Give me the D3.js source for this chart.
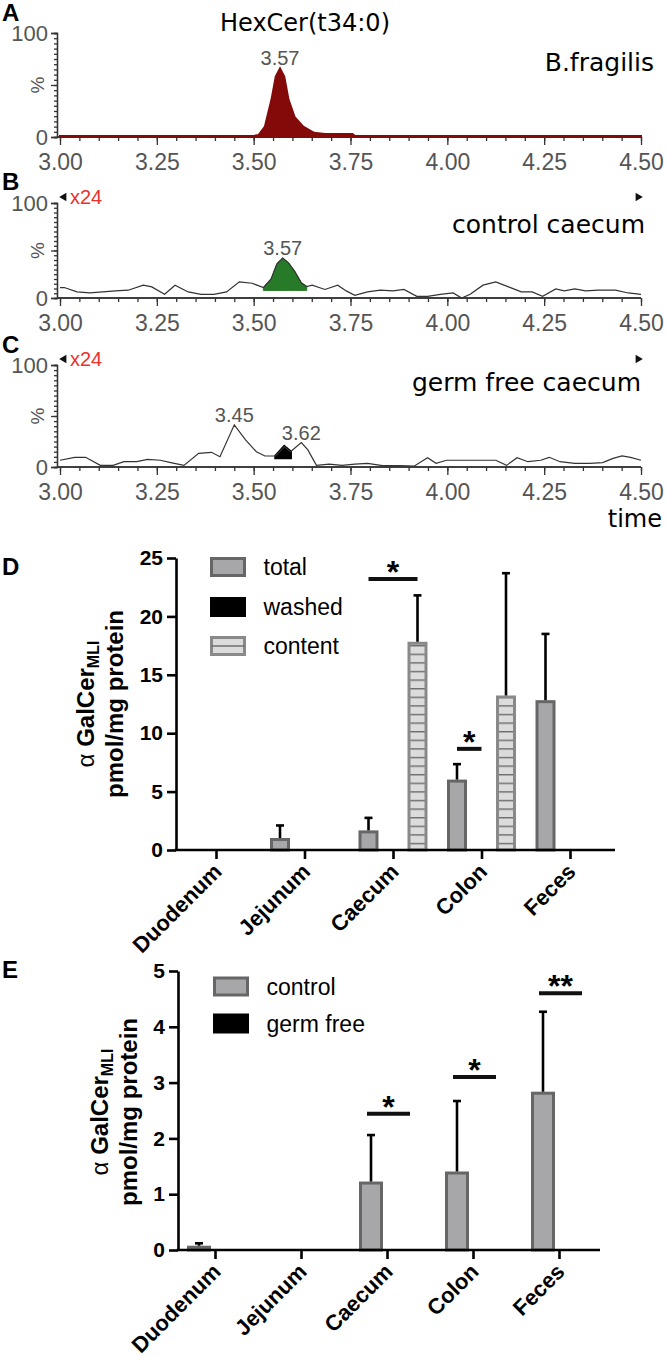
<!DOCTYPE html>
<html>
<head>
<meta charset="utf-8">
<script src="https://cdn.jsdelivr.net/npm/d3@7"></script>
<style>
  body { margin: 0; background: #fff; }
  svg { display: block; }
</style>
</head>
<body>
<script>
// ---- data ----
// chromatograms: retention time (min) and relative intensity (%)
var timeTicks = [3.00, 3.25, 3.50, 3.75, 4.00, 4.25, 4.50];

var fragilisTime = [3.00, 3.50, 3.513, 3.529, 3.546, 3.557, 3.568, 3.579, 3.590, 3.606, 3.628, 3.656, 3.684, 3.755, 3.762, 4.50];
var fragilisPct  = [1, 1, 2, 10, 36, 58, 66, 58, 36, 19, 10, 4, 3, 3, 1, 1];

var controlTime = [3.00, 3.011, 3.044, 3.077, 3.110, 3.143, 3.176, 3.215, 3.237, 3.270, 3.297, 3.331, 3.364, 3.397,
  3.430, 3.463, 3.496, 3.525, 3.545, 3.560, 3.575, 3.590, 3.606, 3.623, 3.637, 3.651, 3.684, 3.717, 3.739, 3.761,
  3.794, 3.827, 3.860, 3.888, 3.921, 3.949, 3.982, 4.015, 4.037, 4.059, 4.092, 4.125, 4.158, 4.191, 4.219, 4.246,
  4.280, 4.302, 4.329, 4.357, 4.390, 4.434, 4.467, 4.500];
var controlPct = [11, 11, 6.4, 5.3, 6.4, 7.5, 8.2, 13.5, 11.7, 3.9, 13.5, 6.4, 3.9, 3.9,
  6.4, 17, 15.5, 11, 20, 36, 42, 37, 28, 16, 12, 13.5, 9, 13.5, 7.5, 2.9,
  6.4, 8.2, 7.5, 9, 1.8, 1.8, 3.9, 5.3, 0, 3.9, 13.5, 17, 11.7, 6.4, 6.4, 1.8,
  9.5, 7.5, 9.5, 7.5, 8.2, 8.2, 5.3, 3.9];

var germfreeTime = [3.00, 3.038, 3.066, 3.104, 3.137, 3.165, 3.198, 3.226, 3.259, 3.286, 3.320, 3.358, 3.391, 3.413,
  3.450, 3.479, 3.507, 3.529, 3.557, 3.579, 3.595, 3.623, 3.640, 3.662, 3.695, 3.728, 3.761, 3.794, 3.833, 3.877,
  3.915, 3.949, 3.971, 3.998, 4.037, 4.081, 4.125, 4.153, 4.180, 4.208, 4.241, 4.263, 4.291, 4.329, 4.368, 4.401,
  4.428, 4.451, 4.473, 4.500];
var germfreePct = [6.6, 9.5, 9.5, 1.6, 1.6, 5.2, 5.2, 7.5, 6.6, 4.3, 1.6, 13.4, 14.4, 10.1,
  41.3, 26.5, 15, 10.8, 10.8, 20, 15, 23.9, 16.7, 1.6, 2.9, 1.6, 2.9, 3.6, 1.3, 1.3,
  1, 9.1, 3.6, 6.6, 6.6, 6.6, 6.6, 1.6, 9.1, 5.2, 6.6, 9.5, 5.2, 3.6, 3.6, 4.3,
  8.5, 10.8, 9.5, 6.6];

// bar charts
var regions = ["Duodenum", "Jejunum", "Caecum", "Colon", "Feces"];

var dSeries = ["total", "washed", "content"];
var dTotal = [0, 0.9, 1.55, 5.9, 12.7];
var dTotalErr = [0, 1.2, 1.2, 1.45, 5.8];
var dWashed = [0, 0, 0, 0, 0];
var dContent = [0, 0, 17.7, 13.1, 0];
var dContentErr = [0, 0, 4.1, 10.6, 0];
var dSig = [["Caecum", "total", "content", 23.2, "*"], ["Colon", "total", "washed", 8.66, "*"]];

var eSeries = ["control", "germ free"];
var eControl = [0.05, 0, 1.2, 1.38, 2.81];
var eControlErr = [0.07, 0, 0.86, 1.29, 1.46];
var eGermFree = [0, 0, 0, 0, 0];
var eSig = [["Caecum", 2.44, "*"], ["Colon", 3.1, "*"], ["Feces", 4.6, "**"]];

// ---- svg ----
var svgWidth = 667;
var svgHeight = 1357;

var svg = d3.select("body")
  .append("svg")
  .attr("width", svgWidth)
  .attr("height", svgHeight)
  .style("font-family", "'Liberation Sans', Arial, sans-serif");

var defs = svg.append("defs");
var stripes = defs.append("pattern")
  .attr("id", "stripes")
  .attr("patternUnits", "userSpaceOnUse")
  .attr("width", 40)
  .attr("height", 8.6);
stripes.append("rect").attr("width", 40).attr("height", 8.6).attr("fill", "#dcdcdc");
stripes.append("line").attr("x1", 0).attr("x2", 40).attr("y1", 0.7).attr("y2", 0.7)
  .attr("stroke", "#6e6e6e").attr("stroke-width", 1.4);

// panel letters
[["A", 21], ["B", 190], ["C", 353], ["D", 575], ["E", 978]].forEach(function(p) {
  svg.append("text").attr("x", 2).attr("y", p[1])
    .style("font-size", "24px").style("font-weight", "bold").text(p[0]);
});

// ---- chromatograms ----
var xTime = d3.scaleLinear().domain([3, 4.5]).range([60, 641]);
var minorTimes = d3.range(0, 31).map(function(i) { return 3 + i * 0.05; });
var labelFont = "'DejaVu Sans', Verdana, sans-serif";

var chromPanels = [
  { y100: 33, y0: 137, time: fragilisTime, pct: fragilisPct, name: "B.fragilis", nameX: 654, nameY: 71,
    fill: "#840a0a", line: "#840a0a", fullFill: true, peaks: [[3.568, 66, "3.57"]] },
  { y100: 203, y0: 298, time: controlTime, pct: controlPct, name: "control caecum", nameX: 645, nameY: 233,
    fill: "#277a27", line: "#333", window: [3.525, 3.637, 8], zoomY: 197, peaks: [[3.575, 42, "3.57"]] },
  { y100: 365, y0: 467, time: germfreeTime, pct: germfreePct, name: "germ free caecum", nameX: 641, nameY: 391,
    fill: "#000", line: "#333", window: [3.557, 3.595, 9], zoomY: 359,
    peaks: [[3.45, 41.3, "3.45"], [3.623, 23.9, "3.62"]] }
];

chromPanels.forEach(function(p, pi) {
  var y = d3.scaleLinear().domain([0, 100]).range([p.y0, p.y100]);
  var g = svg.append("g");
  var pts = p.time.map(function(t, i) { return { t: t, v: p.pct[i] }; });

  // x axis
  var xMinor = d3.axisBottom(xTime).tickValues(minorTimes).tickSize(4).tickFormat("").tickSizeOuter(0);
  var xMajor = d3.axisBottom(xTime).tickValues(timeTicks).tickSize(8).tickPadding(9)
    .tickFormat(d3.format(".2f")).tickSizeOuter(0);
  var xg = g.append("g").attr("transform", `translate(0, ${p.y0})`);
  xg.call(xMinor);
  xg.append("g").call(xMajor);
  xg.selectAll("path.domain").attr("stroke", "#333").attr("stroke-width", 1.3)
    .attr("d", "M57,0H641");
  xg.selectAll("line").attr("stroke", "#333").attr("stroke-width", 1.3);
  xg.selectAll("text").style("font-size", "23px").attr("fill", "#555");

  // y axis
  var yMinor = d3.axisLeft(y).tickValues(d3.range(0, 101, 5)).tickSize(3).tickFormat("");
  var yMajor = d3.axisLeft(y).tickValues([0, 50, 100]).tickSize(6).tickPadding(3)
    .tickFormat(d => d == 50 ? "" : d);
  var yg = g.append("g").attr("transform", "translate(57,0)");
  yg.call(yMinor);
  yg.append("g").call(yMajor);
  yg.selectAll("path.domain").attr("stroke", "#333").attr("stroke-width", 1.3);
  yg.selectAll("line").attr("stroke", "#333").attr("stroke-width", 1.3);
  yg.selectAll("text").style("font-size", "22px").attr("fill", "#555");

  // traces (drawn over the axis line)
  if (p.fullFill) {
    var area = d3.area().x(d => xTime(d.t)).y0(y(0)).y1(d => y(d.v));
    g.append("path").datum(pts).attr("d", area)
      .attr("fill", p.fill).attr("stroke", p.fill).attr("stroke-width", 2);
  } else {
    var sub = pts.filter(d => d.t >= p.window[0] && d.t <= p.window[1]);
    var area2 = d3.area().x(d => xTime(d.t)).y0(y(p.window[2])).y1(d => y(d.v));
    g.append("path").datum(sub).attr("d", area2)
      .attr("fill", p.fill).attr("stroke", p.fill).attr("stroke-width", pi == 2 ? 3 : 1);
    var line = d3.line().x(d => xTime(d.t)).y(d => y(d.v));
    g.append("path").datum(pts).attr("d", line)
      .attr("fill", "none").attr("stroke", p.line).attr("stroke-width", 1.2);
  }

  g.append("text")
    .attr("transform", `translate(44, ${y(50)}) rotate(-90)`)
    .attr("text-anchor", "middle")
    .style("font-size", "19px").attr("fill", "#555").text("%");

  // peak labels
  p.peaks.forEach(function(pk) {
    g.append("text").attr("x", xTime(pk[0])).attr("y", y(pk[1]) - 3)
      .attr("text-anchor", "middle").style("font-size", "20px").attr("fill", "#555").text(pk[2]);
  });

  g.append("text").attr("x", p.nameX).attr("y", p.nameY)
    .attr("text-anchor", "end")
    .style("font-family", labelFont).style("font-size", "25px").text(p.name);

  if (p.zoomY) {
    g.append("path").attr("d", d3.symbol(d3.symbolTriangle, 30)())
      .attr("transform", `translate(64, ${p.zoomY}) rotate(-90)`).attr("fill", "#111");
    g.append("path").attr("d", d3.symbol(d3.symbolTriangle, 30)())
      .attr("transform", `translate(638, ${p.zoomY}) rotate(90)`).attr("fill", "#111");
    g.append("text").attr("x", 70).attr("y", p.zoomY + 7)
      .style("font-size", "20px").attr("fill", "#e8332d").text("x24");
  }
});

svg.append("text").attr("x", 305).attr("y", 31).attr("text-anchor", "middle")
  .style("font-family", labelFont).style("font-size", "24px").text("HexCer(t34:0)");
svg.append("text").attr("x", 662).attr("y", 527).attr("text-anchor", "end")
  .style("font-family", labelFont).style("font-size", "24px").text("time");

// ---- bar chart helpers ----
function drawYTitle(cx1, cx2, cy) {
  var t1 = svg.append("text")
    .attr("transform", `translate(${cx1}, ${cy}) rotate(-90)`)
    .attr("text-anchor", "middle").style("font-size", "24px").style("font-weight", "bold");
  t1.append("tspan").style("font-weight", "normal").text("\u03b1 ");
  t1.append("tspan").text("GalCer");
  t1.append("tspan").attr("dy", 5).style("font-size", "16px").text("MLI");
  svg.append("text")
    .attr("transform", `translate(${cx2}, ${cy}) rotate(-90)`)
    .attr("text-anchor", "middle").style("font-size", "24px").style("font-weight", "bold")
    .text("pmol/mg protein");
}

function drawAxes(x, y, yTicks, xStart, xEnd) {
  var yAxis = d3.axisLeft(y).tickValues(yTicks).tickSize(9).tickPadding(4).tickSizeOuter(0)
    .tickFormat(d3.format("d"));
  var yg = svg.append("g").attr("transform", `translate(${xStart}, 0)`).call(yAxis);
  yg.selectAll("path, line").attr("stroke", "#000").attr("stroke-width", 2.6);
  yg.selectAll("text").style("font-size", "21px").style("font-weight", "bold").attr("fill", "#000");

  var y0 = y(0);
  svg.append("line").attr("x1", xStart - 1.3).attr("x2", xEnd).attr("y1", y0).attr("y2", y0)
    .attr("stroke", "#000").attr("stroke-width", 2.6);
  var xAxis = d3.axisBottom(x).tickSize(9).tickFormat("").tickSizeOuter(0);
  var xg = svg.append("g").attr("transform", `translate(0, ${y0})`).call(xAxis);
  xg.select("path.domain").remove();
  xg.selectAll("line").attr("stroke", "#000").attr("stroke-width", 2.6);

  svg.selectAll(null).data(regions).enter().append("text")
    .attr("transform", d => `translate(${x(d) + 7}, ${y0 + 23}) rotate(-45)`)
    .attr("text-anchor", "end")
    .style("font-size", "22px").style("font-weight", "bold")
    .text(d => d);
}

function drawBars(rows, x, off, y, w) {
  svg.selectAll(null).data(rows.filter(d => d.value > 0)).enter().append("rect")
    .attr("x", d => x(d.region) + off(d.series) - w / 2)
    .attr("y", d => y(d.value))
    .attr("width", w)
    .attr("height", d => y(0) - y(d.value))
    .attr("fill", d => d.fill)
    .attr("stroke", d => d.stroke)
    .attr("stroke-width", 3);

  var errRows = rows.filter(d => d.err > 0);
  svg.selectAll(null).data(errRows).enter().append("line")
    .attr("x1", d => x(d.region) + off(d.series))
    .attr("x2", d => x(d.region) + off(d.series))
    .attr("y1", d => y(d.value) - 1.5)
    .attr("y2", d => y(d.value + d.err))
    .attr("stroke", "#000").attr("stroke-width", 2.6);
  svg.selectAll(null).data(errRows).enter().append("line")
    .attr("x1", d => x(d.region) + off(d.series) - 4)
    .attr("x2", d => x(d.region) + off(d.series) + 4)
    .attr("y1", d => y(d.value + d.err))
    .attr("y2", d => y(d.value + d.err))
    .attr("stroke", "#000").attr("stroke-width", 2.6);
}

function drawSig(x1, x2, yv, label) {
  svg.append("line").attr("x1", x1).attr("x2", x2).attr("y1", yv).attr("y2", yv)
    .attr("stroke", "#111").attr("stroke-width", 4);
  svg.append("text").attr("x", (x1 + x2) / 2).attr("y", yv + 4)
    .attr("text-anchor", "middle").style("font-size", "32px").style("font-weight", "bold").text(label);
}

function drawLegend(items, x, ys) {
  items.forEach(function(it, i) {
    svg.append("rect").attr("x", x).attr("y", ys[i] - 8.5).attr("width", 33).attr("height", 17)
      .attr("fill", it.fill).attr("stroke", it.stroke).attr("stroke-width", 3);
    if (it.midLine) {
      svg.append("line").attr("x1", x).attr("x2", x + 33).attr("y1", ys[i]).attr("y2", ys[i])
        .attr("stroke", "#6e6e6e").attr("stroke-width", 1.4);
    }
    svg.append("text").attr("x", x + 52).attr("y", ys[i] + 8)
      .style("font-family", "'Liberation Sans Narrow', 'Arial Narrow', 'Liberation Sans', sans-serif")
      .style("font-size", "23px").text(it.name);
  });
}

var styleFor = {
  total: { fill: "#a7a7aa", stroke: "#666" },
  washed: { fill: "#000", stroke: "#000" },
  content: { fill: "url(#stripes)", stroke: "#898989" },
  control: { fill: "#a7a7aa", stroke: "#666" },
  "germ free": { fill: "#000", stroke: "#000" }
};

// ---- panel D ----
var yD = d3.scaleLinear().domain([0, 25]).range([850, 558]);
var xD = d3.scalePoint().domain(regions).range([216, 570]);
var offD = d3.scalePoint().domain(dSeries).range([-24.5, 24.5]);

var dRows = [];
regions.forEach(function(r, i) {
  dRows.push({ region: r, series: "total", value: dTotal[i], err: dTotalErr[i] });
  dRows.push({ region: r, series: "washed", value: dWashed[i], err: 0 });
  dRows.push({ region: r, series: "content", value: dContent[i], err: dContentErr[i] });
});
dRows.forEach(d => { d.fill = styleFor[d.series].fill; d.stroke = styleFor[d.series].stroke; });

drawBars(dRows, xD, offD, yD, 17);
drawAxes(xD, yD, [0, 5, 10, 15, 20, 25], 176, 615);
drawYTitle(94, 123, 704);
dSig.forEach(function(s) {
  drawSig(xD(s[0]) + offD(s[1]), xD(s[0]) + offD(s[2]), yD(s[3]), s[4]);
});
drawLegend([
  { name: "total", fill: styleFor.total.fill, stroke: styleFor.total.stroke },
  { name: "washed", fill: "#000", stroke: "#000" },
  { name: "content", fill: "#dcdcdc", stroke: "#898989", midLine: true }
], 211.5, [567, 607, 646]);

// ---- panel E ----
var yE = d3.scaleLinear().domain([0, 5]).range([1250, 971]);
var xE = d3.scalePoint().domain(regions).range([215, 559]);
var offE = d3.scalePoint().domain(eSeries).range([-16, 16]);

var eRows = [];
regions.forEach(function(r, i) {
  eRows.push({ region: r, series: "control", value: eControl[i], err: eControlErr[i] });
  eRows.push({ region: r, series: "germ free", value: eGermFree[i], err: 0 });
});
eRows.forEach(d => { d.fill = styleFor[d.series].fill; d.stroke = styleFor[d.series].stroke; });

drawBars(eRows, xE, offE, yE, 21);
drawAxes(xE, yE, [0, 1, 2, 3, 4, 5], 178, 600);
drawYTitle(108, 137, 1112);
eSig.forEach(function(s) {
  drawSig(xE(s[0]) - 20, xE(s[0]) + 23, yE(s[1]), s[2]);
});
drawLegend([
  { name: "control", fill: styleFor.control.fill, stroke: styleFor.control.stroke },
  { name: "germ free", fill: "#000", stroke: "#000" }
], 214.5, [986.5, 1023.5]);
</script>
</body>
</html>
